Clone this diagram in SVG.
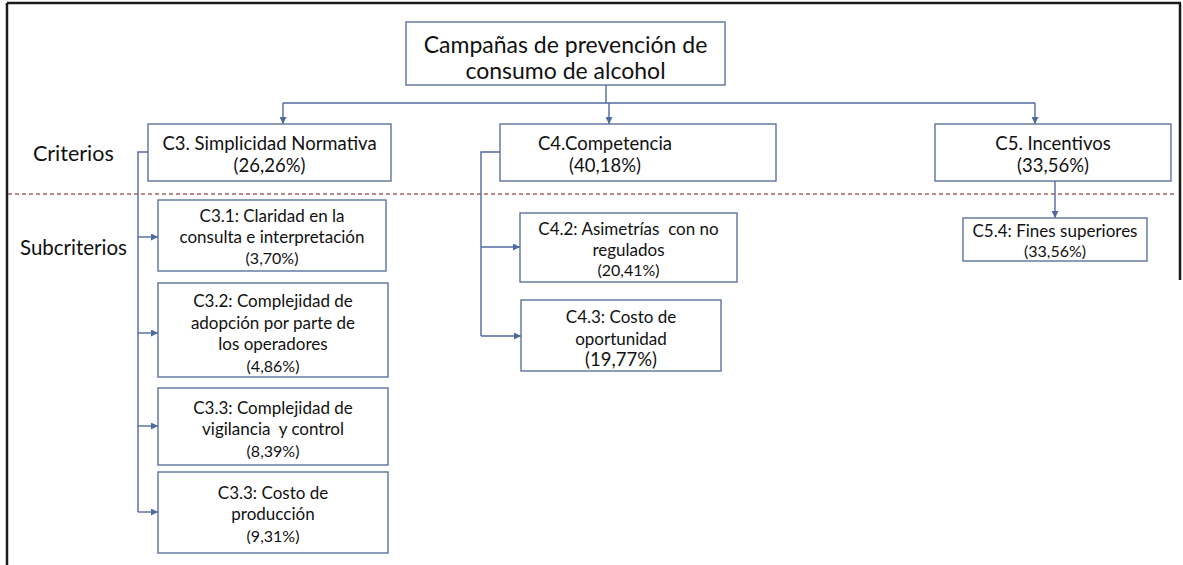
<svg xmlns="http://www.w3.org/2000/svg" width="1183" height="565" viewBox="0 0 1183 565">
<style>
.box{fill:#fff;stroke:#5a72a0;stroke-width:1.4}
.t{font-family:Lato,"Liberation Sans",sans-serif;fill:#111;text-anchor:middle;dominant-baseline:central}
.big{font-size:23px}
.mid{font-size:18.5px}
.sm{font-size:17px}
.pc{font-size:16px}
.lab{font-family:Lato,"Liberation Sans",sans-serif;fill:#111;dominant-baseline:central}
.con{fill:none;stroke:#4f6aa0;stroke-width:1.4}
.arr{fill:none;stroke:#4f6aa0;stroke-width:1.4;marker-end:url(#ah)}
</style>
<defs>
<marker id="ah" viewBox="0 0 10 10" refX="10" refY="5" markerWidth="7" markerHeight="7" markerUnits="userSpaceOnUse" orient="auto">
<path d="M0,0 L10,5 L0,10 z" fill="#4f6aa0"/>
</marker>
</defs>
<rect width="1183" height="565" fill="#fff"/>
<g id="frame" stroke="#1a1a1a" stroke-width="2.5" fill="none">
<line x1="7" y1="3" x2="1181" y2="3"/>
<line x1="7" y1="3" x2="7" y2="565"/>
<line x1="1180" y1="3" x2="1180" y2="280"/>
</g>
<line x1="8" y1="194" x2="1175" y2="194" stroke="#a86060" stroke-width="1.5" stroke-dasharray="4 3"/>
<text class="lab" x="33" y="153" font-size="21.5">Criterios</text>
<text class="lab" x="20" y="247" font-size="20.5">Subcriterios</text>
<g id="connectors">
<path class="con" d="M606,85 V103 M283,103 H1035"/>
<path class="arr" d="M283,103 V124"/>
<path class="arr" d="M609,103 V124"/>
<path class="arr" d="M1035,103 V124"/>
<path class="con" d="M148,152 H138 V512"/>
<path class="arr" d="M138,237 H158"/>
<path class="arr" d="M138,333 H158"/>
<path class="arr" d="M138,426 H158"/>
<path class="arr" d="M138,512 H158"/>
<path class="con" d="M500,152 H481 V336"/>
<path class="arr" d="M481,247 H520"/>
<path class="arr" d="M481,336 H521"/>
<path class="arr" d="M1055,181 V218"/>
</g>
<g id="root">
<rect class="box" x="406" y="22" width="319" height="63"/>
<text class="t big" x="565.5" y="44">Campañas de prevención de</text>
<text class="t big" x="565.5" y="70">consumo de alcohol</text>
</g>
<g id="c3">
<rect class="box" x="148" y="124" width="243" height="57"/>
<text class="t mid" x="269.5" y="143">C3. Simplicidad Normativa</text>
<text class="t mid" x="269.5" y="165">(26,26%)</text>
</g>
<g id="c4">
<rect class="box" x="500" y="124" width="276" height="57"/>
<text class="t mid" x="605" y="143">C4.Competencia</text>
<text class="t mid" x="605" y="165">(40,18%)</text>
</g>
<g id="c5">
<rect class="box" x="935" y="124" width="236" height="57"/>
<text class="t mid" x="1053" y="143">C5. Incentivos</text>
<text class="t mid" x="1053" y="165">(33,56%)</text>
</g>
<g id="c31">
<rect class="box" x="158" y="200" width="228" height="71"/>
<text class="t sm" x="272" y="215">C3.1: Claridad en la</text>
<text class="t sm" x="272" y="236">consulta e interpretación</text>
<text class="t pc" x="272" y="257">(3,70%)</text>
</g>
<g id="c32">
<rect class="box" x="158" y="283" width="230" height="94"/>
<text class="t sm" x="273" y="300">C3.2: Complejidad de</text>
<text class="t sm" x="273" y="322">adopción por parte de</text>
<text class="t sm" x="273" y="343">los operadores</text>
<text class="t pc" x="273" y="365">(4,86%)</text>
</g>
<g id="c33a">
<rect class="box" x="158" y="388" width="230" height="77"/>
<text class="t sm" x="273" y="407">C3.3: Complejidad de</text>
<text class="t sm" x="273" y="428" xml:space="preserve">vigilancia  y control</text>
<text class="t pc" x="273" y="450">(8,39%)</text>
</g>
<g id="c33b">
<rect class="box" x="158" y="472" width="230" height="81"/>
<text class="t sm" x="273" y="492">C3.3: Costo de</text>
<text class="t sm" x="273" y="513">producción</text>
<text class="t pc" x="273" y="535">(9,31%)</text>
</g>
<g id="c42">
<rect class="box" x="520" y="213" width="217" height="69"/>
<text class="t sm" x="628.5" y="228" xml:space="preserve">C4.2: Asimetrías  con no</text>
<text class="t sm" x="628.5" y="249">regulados</text>
<text class="t pc" x="628.5" y="269">(20,41%)</text>
</g>
<g id="c43">
<rect class="box" x="521" y="300" width="200" height="71"/>
<text class="t sm" x="621" y="316">C4.3: Costo de</text>
<text class="t sm" x="621" y="338">oportunidad</text>
<text class="t mid" x="621" y="359">(19,77%)</text>
</g>
<g id="c54">
<rect class="box" x="963" y="218" width="184" height="43"/>
<text class="t sm" x="1055" y="230">C5.4: Fines superiores</text>
<text class="t pc" x="1055" y="250">(33,56%)</text>
</g>
</svg>
